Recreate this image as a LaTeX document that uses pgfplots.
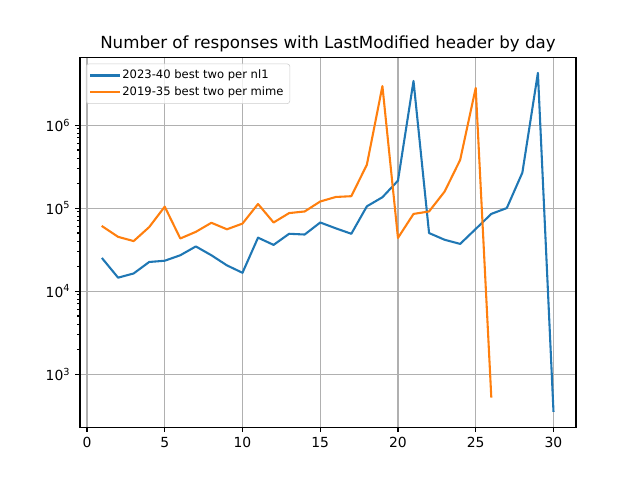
\documentclass[border=0pt]{standalone}
\usepackage{fontspec}
\setmainfont{DejaVu Sans}
\usepackage{pgfplots}
\pgfplotsset{compat=1.18}
\definecolor{tabblue}{HTML}{1F77B4}
\definecolor{taborange}{HTML}{FF7F0E}
\definecolor{gridgray}{HTML}{B0B0B0}

% 2023-40 best two per nl1
\pgfplotstableread{
day count
1 24500
2 14500
3 16300
4 22400
5 23200
6 27000
7 34500
8 27000
9 20400
10 16600
11 44000
12 36000
13 49000
14 48000
15 67000
16 57000
17 49000
18 105000
19 135000
20 214000
21 3400000
22 50000
23 41500
24 37000
25 56000
26 85000
27 100000
28 267000
29 4250000
30 360
}\nlone

% 2019-35 best two per mime
\pgfplotstableread{
day count
1 60000
2 45000
3 40000
4 59000
5 104000
6 43000
7 51700
8 66500
9 55500
10 65000
11 112000
12 67000
13 87000
14 91000
15 120000
16 136000
17 139000
18 333000
19 2950000
20 43700
21 85000
22 91000
23 158000
24 380000
25 2800000
26 535
}\mime

\begin{document}
\begin{tikzpicture}
\path[use as bounding box] (-57.6pt,-38.016pt) rectangle (403.2pt,307.584pt);
\begin{axis}[
  at={(0pt,0pt)}, anchor=south west,
  width=357.12pt, height=266.112pt, scale only axis,
  ymode=log,
  xmin=-0.45, xmax=31.45,
  ymin=229, ymax=6.5e6,
  xtick={0,5,...,30},
  ytick={1e3,1e4,1e5,1e6},
  yticklabels={10\textsuperscript{3},10\textsuperscript{4},10\textsuperscript{5},10\textsuperscript{6}},
  xticklabel style={/pgf/number format/assume math mode=true},
  tick label style={font=\fontsize{10}{12}\selectfont},
  tick align=outside,
  major tick length=3.5pt,
  minor tick length=2pt,
  tick style={black, line width=0.8pt},
  minor y tick num=8,
  xtick pos=bottom, ytick pos=left,
  grid=major,
  major grid style={gridgray, line width=0.8pt},
  axis line style={line width=0.8pt},
  title={Number of responses with LastModified header by day},
  title style={font=\fontsize{12}{14}\selectfont, yshift=-5.5pt},
  legend style={at={(axis description cs:0,1)}, anchor=north west,
    xshift=4.3pt, yshift=-4.3pt,
    font=\fontsize{8.33}{10}\selectfont,
    draw=gray!40, rounded corners=2pt, fill=white, fill opacity=0.8, text opacity=1,
    row sep=0pt, inner sep=2.5pt},
  legend cell align=left,
  legend image code/.code={\draw[#1] (0pt,0pt) -- (20pt,0pt);},
]
\addplot[tabblue, line width=1.5pt, line join=round, line cap=rect] table[x=day, y=count] {\nlone};
\addlegendentry{2023-40 best two per nl1}
\addplot[taborange, line width=1.5pt, line join=round, line cap=rect] table[x=day, y=count] {\mime};
\addlegendentry{2019-35 best two per mime}
\end{axis}
\end{tikzpicture}
\end{document}
